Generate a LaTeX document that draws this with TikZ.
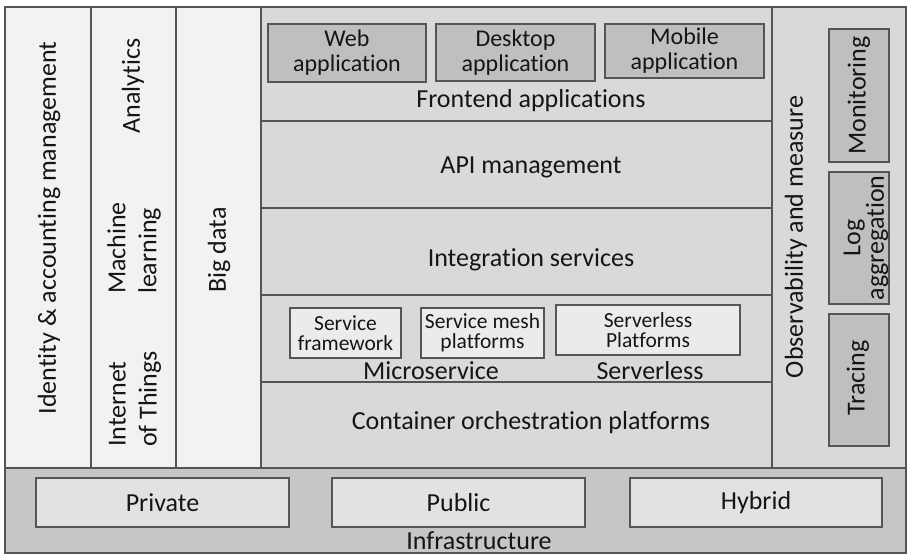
\documentclass[tikz,border=0pt]{standalone}
\usepackage{fontspec}
\setmainfont{Carlito}[Ligatures=NoCommon]
\definecolor{linec}{HTML}{555555}
\definecolor{txtc}{HTML}{151515}
\definecolor{palefill}{HTML}{F2F2F2}
\definecolor{midfill}{HTML}{D9D9D9}
\definecolor{darkbox}{HTML}{BFBFBF}
\definecolor{lightbox}{HTML}{EBEBEB}
\definecolor{infrafill}{HTML}{C6C6C6}
\definecolor{infrabox}{HTML}{E2E2E2}
\begin{document}
\begin{tikzpicture}[x=1pt,y=-1pt,
  panel/.style 2 args={draw=linec, line width=1.4pt, inner sep=0pt,
    minimum width=#1pt, minimum height=#2pt},
  big/.style={font=\fontsize{26}{31}\selectfont, text=txtc},
  mid/.style={font=\fontsize{24}{25}\selectfont, text=txtc, align=center},
  small/.style={font=\fontsize{21.5}{20.5}\selectfont, text=txtc, align=center},
]
\useasboundingbox (0,0) rectangle (910,556);
\fill[white] (0,0) rectangle (910,556);

% left-hand columns
\node[panel={86}{461}, fill=palefill] (idm) at (48,237.5) {};
\node[panel={85}{461}, fill=palefill] (mlcol) at (133.5,237.5) {};
\node[panel={85}{461}, fill=palefill] (bdcol) at (218.5,237.5) {};

% central layers
\node[panel={511}{114}, fill=midfill] (front) at (516.5,64) {};
\node[panel={511}{87}, fill=midfill] (api) at (516.5,164.5) {};
\node[panel={511}{87}, fill=midfill] (integ) at (516.5,251.5) {};
\node[panel={511}{87}, fill=midfill] (micro) at (516.5,338.5) {};
\node[panel={511}{86}, fill=midfill] (cont) at (516.5,425) {};

% right-hand column
\node[panel={134}{461}, fill=midfill] (obs) at (839,237.5) {};

% infrastructure band
\node[panel={901}{85}, fill=infrafill] (infra) at (455.5,510.5) {};

% rotated column labels
\node[big, rotate=90] (idmT) at (49,228) {Identity \& accounting management};
\node[big, rotate=90] (anaT) at (133,86) {Analytics};
\node[big, rotate=90, align=left] (mlT) at (134,248) {Machine\\learning};
\node[big, rotate=90, align=left] (iotT) at (135,399) {Internet\\of Things};
\node[big, rotate=90] (bdT) at (219,250) {Big data};

% frontend applications
\node[panel={158}{58}, fill=darkbox, mid] (web) at (347,53) {Web\\application};
\node[panel={159}{57}, fill=darkbox, mid] (desk) at (515.5,52.5) {Desktop\\application};
\node[panel={159}{54}, fill=darkbox, mid] (mob) at (684.5,51) {Mobile\\application};
\node[big] (frontT) at (531,101) {Frontend applications};

\node[big] (apiT) at (531,167) {API management};
\node[big] (integT) at (531,260) {Integration services};

% microservice / serverless layer
\node[panel={111}{50}, fill=lightbox, small] (sfw) at (345.5,333) {Service\\framework};
\node[panel={123}{50}, fill=lightbox, small] (smesh) at (482.5,333) {Service mesh\\platforms};
\node[panel={184}{50}, fill=lightbox, small] (sless) at (648,330) {Serverless\\Platforms};
\node[big] (microT) at (431,371) {Microservice};
\node[big] (slessT) at (650,371) {Serverless};

\node[big] (contT) at (531,423) {Container orchestration platforms};

% observability
\node[big, rotate=90] (obsT) at (796,237) {Observability and measure};
\node[panel={60}{133}, fill=darkbox] (mon) at (859,95.5) {};
\node[panel={60}{132}, fill=darkbox] (logb) at (859,238) {};
\node[panel={60}{132}, fill=darkbox] (trc) at (859,380) {};
\node[big, rotate=90] (monT) at (859,95.5) {Monitoring};
\node[rotate=90, font=\fontsize{26}{21}\selectfont, text=txtc, align=center] (logT) at (866,238) {Log\\aggregation};
\node[big, rotate=90] (trcT) at (858,378) {Tracing};

% infrastructure
\node[panel={253}{49}, fill=infrabox, big] (priv) at (162.5,502.5) {Private};
\node[panel={253}{49}, fill=infrabox, big] (pub) at (458.5,502.5) {Public};
\node[panel={252}{49}, fill=infrabox, big] (hyb) at (756,502.5) {Hybrid};
\node[big] (infraT) at (479,541) {Infrastructure};
\end{tikzpicture}
\end{document}
